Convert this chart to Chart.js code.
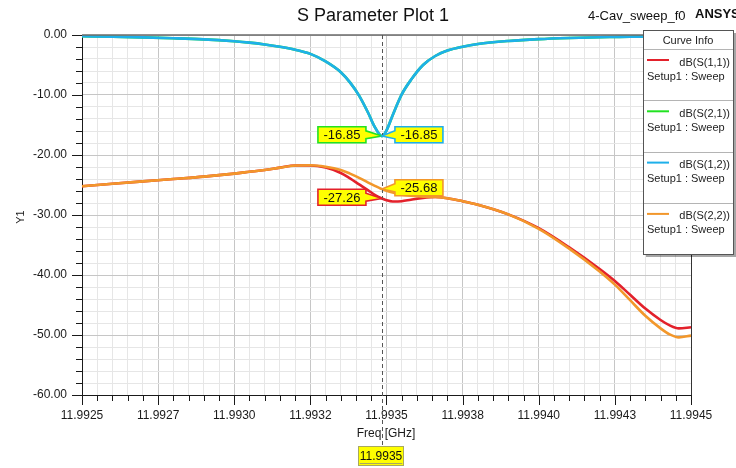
<!DOCTYPE html>
<html>
<head>
<meta charset="utf-8">
<title>S Parameter Plot 1</title>
<script src="https://cdn.jsdelivr.net/npm/chart.js@4.4.0/dist/chart.umd.min.js"></script>
<style>
  html, body { margin: 0; padding: 0; background: #ffffff; }
  canvas { display: block; }
</style>
</head>
<body>
<canvas id="plot" width="736" height="468"></canvas>
<script>
// Sweep frequencies (GHz)
const freqGHz = [11.99250, 11.99260, 11.99270, 11.99280, 11.99290, 11.99300, 11.99305, 11.99310,
  11.99315, 11.99320, 11.99325, 11.99330, 11.99335, 11.99338, 11.99341, 11.99344,
  11.99346, 11.993485, 11.99350, 11.99352, 11.99355, 11.99358, 11.99362, 11.99366,
  11.99370, 11.99375, 11.99380, 11.99390, 11.99400, 11.99410, 11.99420, 11.99425,
  11.99430, 11.99435, 11.99440, 11.99443, 11.99446, 11.99450];

// dB(S(1,1))
const s11 = [-25.2, -24.8, -24.4, -24.0, -23.6, -23.1, -22.8, -22.5,
  -22.1, -21.75, -21.75, -22.1, -23.0, -23.9, -24.9, -25.9,
  -26.6, -27.26, -27.55, -27.75, -27.7, -27.45, -27.15, -27.0,
  -27.2, -27.7, -28.3, -29.9, -32.2, -35.4, -39.0, -41.0,
  -43.3, -45.6, -47.5, -48.4, -48.9, -48.7];

// dB(S(2,1))
const s21 = [-0.22, -0.3, -0.4, -0.54, -0.73, -1.05, -1.27, -1.57,
  -1.95, -2.45, -3.15, -4.4, -6.2, -7.9, -10.1, -13.0,
  -15.2, -16.85, -15.9, -13.4, -9.9, -7.5, -5.0, -3.5,
  -2.6, -1.95, -1.5, -1.0, -0.69, -0.5, -0.37, -0.33,
  -0.29, -0.26, -0.23, -0.22, -0.21, -0.19];

// dB(S(1,2))
const s12 = [-0.22, -0.3, -0.4, -0.54, -0.73, -1.05, -1.27, -1.57,
  -1.95, -2.45, -3.15, -4.4, -6.2, -7.9, -10.1, -13.0,
  -15.2, -16.85, -15.9, -13.4, -9.9, -7.5, -5.0, -3.5,
  -2.6, -1.95, -1.5, -1.0, -0.69, -0.5, -0.37, -0.33,
  -0.29, -0.26, -0.23, -0.22, -0.21, -0.19];

// dB(S(2,2))
const s22 = [-25.2, -24.8, -24.4, -24.0, -23.6, -23.1, -22.8, -22.5,
  -22.1, -21.75, -21.7, -21.95, -22.5, -23.1, -23.8, -24.6,
  -25.1, -25.68, -25.95, -26.25, -26.6, -26.8, -26.95, -27.0,
  -27.2, -27.7, -28.3, -29.9, -32.3, -35.6, -39.4, -41.6,
  -44.2, -46.8, -48.9, -49.9, -50.4, -50.1];

const curveNames = ['dB(S(1,1))', 'dB(S(2,1))', 'dB(S(1,2))', 'dB(S(2,2))'];
const curveSetup = 'Setup1 : Sweep';

const xTickLabels = ['11.9925', '11.9927', '11.9930', '11.9932', '11.9935',
  '11.9938', '11.9940', '11.9943', '11.9945'];
const yTickLabels = ['0.00', '-10.00', '-20.00', '-30.00', '-40.00', '-50.00', '-60.00'];

// frequency marker
const markerFreq = 11.993485;
const markerText = '11.9935';

const FONT = "'Liberation Sans', Arial, sans-serif";
const X_MIN = 11.9925, X_MAX = 11.9945, X_STEP = 0.00005;
const Y_MIN = -60, Y_MAX = 0, Y_STEP = 2;

const colors = ['#e3212b', '#22e222', '#1eb0ea', '#f2972b'];
const drawOrder = [3, 2, 1, 0];       // orange on top of red, blue on top of green
const calloutSide = ['left', 'left', 'right', 'right'];
const seriesValues = [s11, s21, s12, s22];

const datasets = seriesValues.map((vals, k) => ({
  label: curveNames[k],
  data: freqGHz.map((f, i) => ({ x: f, y: vals[i] })),
  borderColor: colors[k],
  backgroundColor: colors[k],
  borderWidth: 2.6,
  pointRadius: 0,
  cubicInterpolationMode: 'monotone',
  order: drawOrder[k],
  clip: 3
}));

function line(ctx, x1, y1, x2, y2) {
  ctx.beginPath(); ctx.moveTo(x1, y1); ctx.lineTo(x2, y2); ctx.stroke();
}

function callout(ctx, px, py, side, text, color) {
  const w = 48, h = 16;
  const top = py - 1.3 - h / 2, bottom = top + h;
  ctx.beginPath();
  if (side === 'left') {
    const right = px - 16, left = right - w;
    ctx.moveTo(left, top); ctx.lineTo(right, top); ctx.lineTo(right, top + 4);
    ctx.lineTo(px, py); ctx.lineTo(right, bottom - 4); ctx.lineTo(right, bottom);
    ctx.lineTo(left, bottom); ctx.closePath();
  } else {
    const left = px + 13, right = left + w;
    ctx.moveTo(right, top); ctx.lineTo(left, top); ctx.lineTo(left, top + 4);
    ctx.lineTo(px, py); ctx.lineTo(left, bottom - 4); ctx.lineTo(left, bottom);
    ctx.lineTo(right, bottom); ctx.closePath();
  }
  ctx.fillStyle = '#ffff00'; ctx.fill();
  ctx.strokeStyle = color; ctx.lineWidth = 1.6; ctx.stroke();
  const cx = side === 'left' ? px - 16 - w / 2 : px + 13 + w / 2;
  ctx.fillStyle = '#111';
  ctx.font = '13px ' + FONT;
  ctx.textAlign = 'center'; ctx.textBaseline = 'middle';
  ctx.fillText(text, cx, top + h / 2 + 1);
}

const overlay = {
  id: 'overlay',
  beforeDraw(chart) {
    const c = chart.ctx;
    c.save(); c.fillStyle = '#ffffff'; c.fillRect(0, 0, chart.width, chart.height); c.restore();
  },
  afterDraw(chart) {
    const ctx = chart.ctx, a = chart.chartArea, xs = chart.scales.x, ys = chart.scales.y;
    ctx.save();

    // frame top and right
    ctx.strokeStyle = '#6a6a6a'; ctx.lineWidth = 1.6;
    line(ctx, a.left, a.top, a.right, a.top);
    ctx.strokeStyle = '#333'; ctx.lineWidth = 1;
    line(ctx, a.right + 0.5, a.top, a.right + 0.5, a.bottom);

    // tick marks
    ctx.strokeStyle = '#1a1a1a'; ctx.lineWidth = 1;
    const ny = Math.round((Y_MAX - Y_MIN) / Y_STEP);
    for (let i = 0; i <= ny; i++) {
      const v = Y_MIN + i * Y_STEP;
      const py = Math.round(ys.getPixelForValue(v)) + 0.5;
      const len = (v % 10 === 0) ? 10 : 6;
      line(ctx, a.left - len, py, a.left, py);
    }
    const nx = Math.round((X_MAX - X_MIN) / X_STEP);
    for (let i = 0; i <= nx; i++) {
      const px = Math.round(xs.getPixelForValue(X_MIN + i * X_STEP)) + 0.5;
      const len = (i % 5 === 0) ? 10 : 6;
      line(ctx, px, a.bottom, px, a.bottom + len);
    }

    // axis titles
    ctx.fillStyle = '#1a1a1a';
    ctx.font = '12px ' + FONT;
    ctx.textAlign = 'center'; ctx.textBaseline = 'middle';
    ctx.fillText('Freq [GHz]', 386, 434);
    ctx.save();
    ctx.translate(21, 217); ctx.rotate(-Math.PI / 2);
    ctx.font = '11px ' + FONT;
    ctx.fillText('Y1', 0, 0);
    ctx.restore();

    // titles
    ctx.fillStyle = '#111';
    ctx.font = '18px ' + FONT;
    ctx.textAlign = 'center';
    ctx.fillText('S Parameter Plot 1', 373, 16);
    ctx.font = '13px ' + FONT; ctx.textAlign = 'left';
    ctx.fillText('4-Cav_sweep_f0', 588, 16);
    ctx.font = 'bold 13px ' + FONT;
    ctx.fillText('ANSYS', 695, 14);

    // marker label box
    const mx = xs.getPixelForValue(markerFreq);
    ctx.fillStyle = '#ffff00';
    ctx.fillRect(358, 446, 46, 20);
    ctx.strokeStyle = '#a8a860'; ctx.lineWidth = 1;
    ctx.strokeRect(358.5, 446.5, 45, 19);
    ctx.fillStyle = '#111'; ctx.font = '12px ' + FONT; ctx.textAlign = 'center';
    ctx.fillText(markerText, 381, 457);
    const tw = ctx.measureText(markerText).width;
    line(ctx, 381 - tw / 2, 463.5, 381 + tw / 2, 463.5);

    // dashed marker line
    ctx.setLineDash([4, 3]);
    ctx.strokeStyle = '#555'; ctx.lineWidth = 1;
    line(ctx, Math.round(mx) + 0.5, a.top, Math.round(mx) + 0.5, 446);
    ctx.setLineDash([]);

    // value callouts at the marker
    const idx = freqGHz.indexOf(markerFreq);
    seriesValues.forEach((vals, k) => {
      const v = vals[idx];
      callout(ctx, mx, ys.getPixelForValue(v), calloutSide[k], v.toFixed(2), colors[k]);
    });

    // curve info box
    const bx = 643, by = 30, bw = 90, bh = 224;
    ctx.fillStyle = 'rgba(0,0,0,0.35)';
    ctx.fillRect(bx + 3, by + 3, bw, bh);
    ctx.fillStyle = '#ffffff';
    ctx.fillRect(bx, by, bw, bh);
    ctx.strokeStyle = '#555'; ctx.lineWidth = 1;
    ctx.strokeRect(bx + 0.5, by + 0.5, bw, bh);
    ctx.fillStyle = '#222'; ctx.font = '11px ' + FONT; ctx.textAlign = 'center';
    ctx.fillText('Curve Info', bx + bw / 2, by + 11);
    const rowH = 51.3;
    chart.data.datasets.forEach((ds, k) => {
      const top = by + 19 + k * rowH;
      ctx.strokeStyle = '#b4b4b4'; ctx.lineWidth = 1;
      line(ctx, bx + 1, Math.round(top) + 0.5, bx + bw, Math.round(top) + 0.5);
      ctx.strokeStyle = ds.borderColor; ctx.lineWidth = 2;
      line(ctx, 647, top + 11, 669, top + 11);
      ctx.fillStyle = '#222'; ctx.font = '11px ' + FONT;
      ctx.textAlign = 'right';
      ctx.fillText(ds.label, 730, top + 13.5);
      ctx.textAlign = 'left';
      ctx.fillText(curveSetup, 647, top + 27.5);
    });

    ctx.restore();
  }
};

new Chart(document.getElementById('plot'), {
  type: 'line',
  data: { datasets },
  options: {
    responsive: false,
    animation: false,
    layout: { padding: { top: 35, right: 45, left: 0, bottom: 0 } },
    plugins: { legend: { display: false }, tooltip: { enabled: false }, title: { display: false } },
    scales: {
      x: {
        type: 'linear', min: X_MIN, max: X_MAX,
        afterBuildTicks: s => {
          const n = Math.round((X_MAX - X_MIN) / X_STEP);
          s.ticks = Array.from({ length: n + 1 }, (_, i) => ({ value: X_MIN + i * X_STEP }));
        },
        afterFit: s => { s.height = 73; },
        grid: {
          color: c => (c.index % 5 === 0 ? '#c6c6c6' : '#e6e6e6'),
          lineWidth: 1, drawTicks: false
        },
        border: { display: true, color: '#1a1a1a', width: 1 },
        ticks: {
          autoSkip: false, maxRotation: 0, minRotation: 0, padding: 13,
          color: '#1a1a1a', font: { family: FONT, size: 12 },
          callback: (v, i) => (i % 5 === 0 ? xTickLabels[i / 5] : '')
        }
      },
      y: {
        type: 'linear', min: Y_MIN, max: Y_MAX,
        afterBuildTicks: s => {
          const n = Math.round((Y_MAX - Y_MIN) / Y_STEP);
          s.ticks = Array.from({ length: n + 1 }, (_, i) => ({ value: Y_MIN + i * Y_STEP }));
        },
        afterFit: s => { s.width = 82; },
        grid: {
          color: c => (Math.round(c.tick.value) % 10 === 0 ? '#c6c6c6' : '#e6e6e6'),
          lineWidth: 1, drawTicks: false
        },
        border: { display: true, color: '#1a1a1a', width: 1 },
        ticks: {
          autoSkip: false, padding: 15,
          color: '#1a1a1a', font: { family: FONT, size: 12 },
          callback: v => (Math.round(v) % 10 === 0 ? yTickLabels[Math.round(-v / 10)] : '')
        }
      }
    }
  },
  plugins: [overlay]
});
</script>
</body>
</html>
